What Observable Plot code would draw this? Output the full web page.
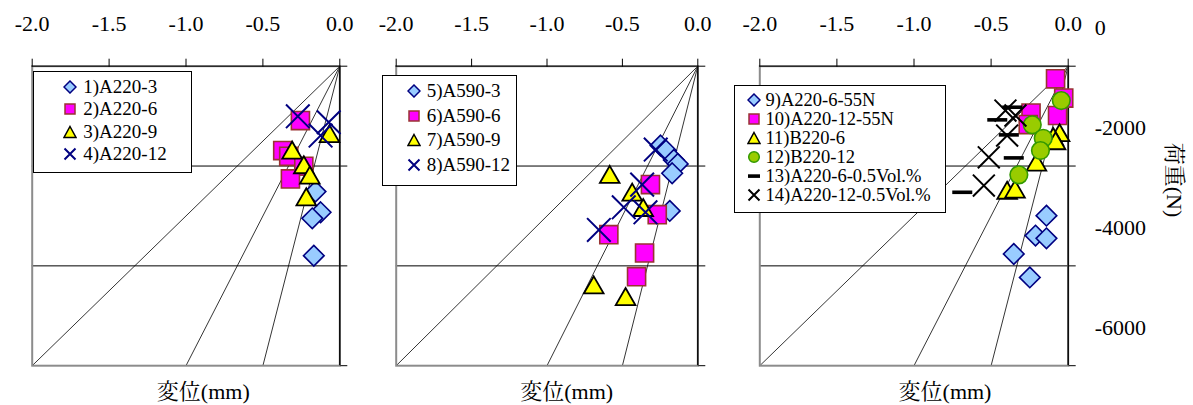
<!DOCTYPE html>
<html><head><meta charset="utf-8">
<script src="https://cdn.jsdelivr.net/npm/d3@7"></script>
<script src="https://cdn.jsdelivr.net/npm/@observablehq/plot@0.6"></script>
<style>
body{margin:0;background:#fff;}
#root{position:relative;width:1193px;height:405px;overflow:hidden;font-family:'Liberation Serif','Noto Serif CJK JP',serif;color:#000;}
.panel{position:absolute;top:0;}
.legend{position:absolute;background:#fff;border:1.3px solid #000;box-sizing:border-box;font-size:19px;font-family:'Liberation Serif',serif;}
.row{position:absolute;left:0;transform:translateY(-50%);white-space:nowrap;line-height:1;height:16px;}
.row svg{position:absolute;top:1px;}
.row span{position:absolute;top:0;display:inline-block;height:16px;line-height:16px;font-family:'Liberation Serif',serif;}
.title{position:absolute;white-space:nowrap;font-size:22px;line-height:1;transform:translate(-50%,-50%);font-family:'Liberation Serif','Noto Serif CJK JP',serif;}
</style>
</head><body>
<div id="root"></div>
<script>
// ---------- axes / reference values ----------
const xTicks = [-2.0, -1.5, -1.0, -0.5, 0.0];
const loadTicks = [0, -2000, -4000, -6000];
const gridLoads = [-2000, -4000];
const refEndDisp = [-2.0, -1.0, -0.5];
const refEndLoad = -6000;
const xLabel = "変位(mm)";
const yLabel = "荷重(N)";

// ---------- panel 1 ----------
const names1 = ["1)A220-3", "2)A220-6", "3)A220-9", "4)A220-12"];
const disp1 = [-0.158, -0.125, -0.179, -0.169];
const load1 = [-2512, -2927, -3048, -3796];
const disp2 = [-0.256, -0.371, -0.332, -0.234, -0.321];
const load2 = [-1089, -1690, -1805, -2005, -2258];
const disp3 = [-0.067, -0.310, -0.234, -0.195, -0.218];
const load3 = [-1408, -1737, -2031, -2238, -2673];
const disp4 = [-0.273, -0.072, -0.125];
const load4 = [-1003, -1123, -1390];

// ---------- panel 2 ----------
const names2 = ["5)A590-3", "6)A590-6", "7)A590-9", "8)A590-12"];
const disp5 = [-0.247, -0.211, -0.159, -0.133, -0.170, -0.186];
const load5 = [-1590, -1690, -1877, -1957, -2145, -2899];
const disp6 = [-0.314, -0.269, -0.590, -0.353, -0.406];
const load6 = [-2372, -2974, -3375, -3742, -4217];
const disp7 = [-0.584, -0.435, -0.362, -0.690, -0.479];
const load7 = [-2225, -2579, -2887, -4437, -4672];
const disp8 = [-0.279, -0.369, -0.491, -0.347, -0.656];
const load8 = [-1670, -2372, -2827, -2927, -3280];

// ---------- panel 3 ----------
const names3 = ["9)A220-6-55N", "10)A220-12-55N", "11)B220-6", "12)B220-12", "13)A220-6-0.5Vol.%", "14)A220-12-0.5Vol.%"];
const disp9 = [-0.141, -0.212, -0.141, -0.353, -0.249];
const load9 = [-2994, -3394, -3449, -3761, -4231];
const disp10 = [-0.082, -0.029, -0.241, -0.069, -0.259];
const load10 = [-253, -638, -938, -988, -1169];
const disp11 = [-0.056, -0.097, -0.082, -0.206, -0.396, -0.345];
const load11 = [-1389, -1464, -1550, -1977, -2542, -2518];
const disp12 = [-0.045, -0.233, -0.162, -0.180, -0.320];
const load12 = [-688, -1175, -1444, -1690, -2177];
const disp13 = [-0.363, -0.460, -0.385, -0.353, -0.687];
const load13 = [-822, -1075, -1376, -1837, -2526];
const disp14 = [-0.407, -0.342, -0.396, -0.515, -0.547];
const load14 = [-888, -988, -1389, -1825, -2392];

// ---------- styles ----------
const dashSymbol = {draw(ctx){ ctx.rect(-10, -1.8, 20, 3.6); }};
const styles = {
  diamond: {symbol: "diamond2", r: 9.3, fill: "#99ccff", stroke: "#000080", strokeWidth: 1.6},
  square: {symbol: "square", r: 10.2, fill: "#ff00ff", stroke: "#993333", strokeWidth: 1.6},
  triangle: {symbol: "triangle", r: 7.3, fill: "#ffff00", stroke: "#000000", strokeWidth: 1.8},
  times: {symbol: "times", r: 10.8, fill: "none", stroke: "#000080", strokeWidth: 2},
  circle: {symbol: "circle", r: 8.8, fill: "#99cc00", stroke: "#339900", strokeWidth: 1.6},
  dash: {symbol: dashSymbol, r: 5, fill: "#000000", stroke: "none"},
  timesBlack: {symbol: "times", r: 10, fill: "none", stroke: "#000000", strokeWidth: 2}
};

const FONT = "'Liberation Serif', 'Noto Serif CJK JP', serif";
const rows = (d, l) => d.map((x, i) => ({disp: x, load: l[i]}));
const refLines = refEndDisp.map(x => ({x1: 0, y1: 0, x2: x, y2: refEndLoad}));

function makePanel(cfg) {
  const marks = [
    Plot.ruleY(gridLoads, {stroke: "#000", strokeWidth: 1}),
    Plot.link(refLines, {x1: "x1", y1: "y1", x2: "x2", y2: "y2", stroke: "#000", strokeWidth: 0.8}),
    Plot.frame({stroke: "#8c8c8c", strokeWidth: 2}),
    Plot.ruleY([0], {stroke: "#000", strokeWidth: 1}),
    Plot.ruleX([0], {stroke: "#000", strokeWidth: 1.4}),
    Plot.axisX({anchor: "top", ticks: xTicks, tickFormat: d => d.toFixed(1), tickSize: 8, tickPadding: 27, label: null, fontFamily: FONT, fontSize: 22}),
    Plot.axisY({anchor: "right", ticks: loadTicks, tickSize: 7, tickFormat: () => "", label: null})
  ];
  if (cfg.yLabels) {
    marks.push(Plot.axisY({anchor: "right", ticks: loadTicks, tickSize: 0, tickPadding: 26.5, dy: -38, tickFormat: d => String(d), label: null, fontFamily: FONT, fontSize: 22}));
  }
  for (const s of cfg.series) {
    marks.push(Plot.dot(rows(s.disp, s.load), {x: "disp", y: "load", ...styles[s.kind]}));
  }
  const svg = Plot.plot({
    width: cfg.w, height: 405,
    marginLeft: cfg.ml, marginRight: cfg.w - cfg.ml - cfg.pw,
    marginTop: 65.7, marginBottom: 39.8,
    x: {domain: [-2, 0]}, y: {domain: [-6000, 0]},
    style: {fontFamily: FONT, fontSize: "22px", color: "#000", background: "transparent", overflow: "visible"},
    marks
  });
  svg.setAttribute("font-family", FONT);
  svg.classList.add("panel");
  svg.style.left = cfg.left + "px";
  return svg;
}

const symbolSvg = {
  diamond: '<polygon points="7,1 13,7 7,13 1,7" fill="#99ccff" stroke="#000080" stroke-width="1.5"/>',
  square: '<rect x="2" y="2" width="10" height="10" fill="#ff00ff" stroke="#993333" stroke-width="1.5"/>',
  triangle: '<polygon points="7,1.5 13,12.5 1,12.5" fill="#ffff00" stroke="#000" stroke-width="1.5"/>',
  times: '<path d="M1.5,1.5L12.5,12.5M1.5,12.5L12.5,1.5" stroke="#000080" stroke-width="2" fill="none"/>',
  circle: '<circle cx="7" cy="7" r="5.3" fill="#99cc00" stroke="#339900" stroke-width="1.5"/>',
  dash: '<rect x="1" y="5.3" width="12" height="3.6" fill="#000"/>',
  timesBlack: '<path d="M1.5,1.5L12.5,12.5M1.5,12.5L12.5,1.5" stroke="#000" stroke-width="2" fill="none"/>'
};

function makeLegend(box, names, kinds, rowsY, symX, textX, fontSize) {
  const div = document.createElement("div");
  div.className = "legend";
  Object.assign(div.style, {left: box[0] + "px", top: box[1] + "px", width: box[2] + "px", height: box[3] + "px", fontSize: fontSize + "px"});
  names.forEach((n, i) => {
    const r = document.createElement("div");
    r.className = "row";
    r.style.top = rowsY[i] + "px";
    r.innerHTML = `<svg width="14" height="14" style="left:${symX - 7}px">${symbolSvg[kinds[i]]}</svg><span style="left:${textX}px">${n}</span>`;
    div.appendChild(r);
  });
  return div;
}

function title(text, cx, cy, rot) {
  const d = document.createElement("div");
  d.className = "title";
  d.textContent = text;
  d.style.left = cx + "px";
  d.style.top = cy + "px";
  if (rot) d.style.transform = "translate(-50%,-50%) rotate(90deg)";
  return d;
}

const root = document.getElementById("root");
const kinds1 = ["diamond", "square", "triangle", "times"];
const kinds3 = ["diamond", "square", "triangle", "circle", "dash", "timesBlack"];

root.appendChild(makePanel({left: 0, w: 360, ml: 31.7, pw: 307.6, yLabels: false, series: [
  {disp: disp1, load: load1, kind: "diamond"},
  {disp: disp2, load: load2, kind: "square"},
  {disp: disp3, load: load3, kind: "triangle"},
  {disp: disp4, load: load4, kind: "times"}
]}));
root.appendChild(makePanel({left: 365, w: 345, ml: 30.7, pw: 301.6, yLabels: false, series: [
  {disp: disp5, load: load5, kind: "diamond"},
  {disp: disp6, load: load6, kind: "square"},
  {disp: disp7, load: load7, kind: "triangle"},
  {disp: disp8, load: load8, kind: "times"}
]}));
root.appendChild(makePanel({left: 720, w: 473, ml: 39.3, pw: 308.4, yLabels: true, series: [
  {disp: disp9, load: load9, kind: "diamond"},
  {disp: disp10, load: load10, kind: "square"},
  {disp: disp11, load: load11, kind: "triangle"},
  {disp: disp12, load: load12, kind: "circle"},
  {disp: disp13, load: load13, kind: "dash"},
  {disp: disp14, load: load14, kind: "timesBlack"}
]}));

root.appendChild(makeLegend([33.3, 71, 158.4, 102.3], names1, kinds1, [15, 37, 60, 82], 36, 49, 19));
root.appendChild(makeLegend([381.7, 75, 135, 111], names2, kinds1, [15, 40, 64.3, 89], 31.6, 44, 19));
root.appendChild(makeLegend([733.5, 85, 212.5, 128], names3, kinds3, [14, 33, 52, 71, 90, 109], 19.8, 31, 18.5));

root.appendChild(title(xLabel, 203.3, 391.7));
root.appendChild(title(xLabel, 566.7, 391.7));
root.appendChild(title(xLabel, 945, 391.7));
root.appendChild(title(yLabel, 1174, 180, true));
</script>
</body></html>
